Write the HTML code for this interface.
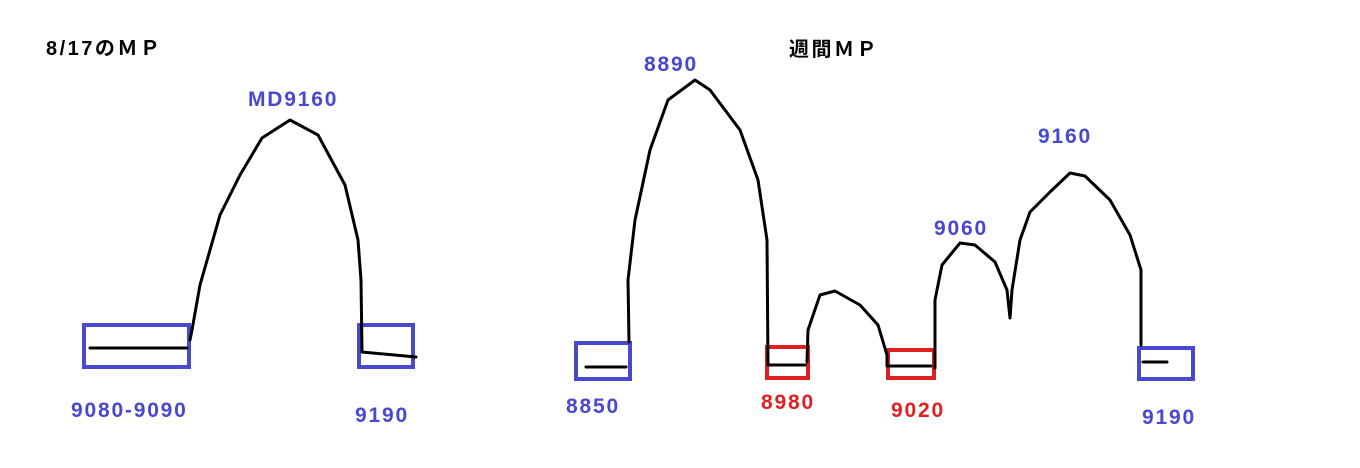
<!DOCTYPE html>
<html><head><meta charset="utf-8"><style>
html,body{margin:0;padding:0;background:#fff;width:1360px;height:468px;overflow:hidden}
svg text{font-family:"Liberation Sans","Noto Sans CJK JP",sans-serif;font-weight:bold}
</style></head><body>
<svg width="1360" height="468" viewBox="0 0 1360 468" xmlns="http://www.w3.org/2000/svg">
<g font-size="20" letter-spacing="2.5">
<text x="46" y="55" fill="#000">8/17のＭＰ</text>
<text x="789" y="56" fill="#000">週間ＭＰ</text>
</g>
<g font-size="21" fill="#4848d0" letter-spacing="1.8">
<text x="248" y="106">MD9160</text>
<text x="71" y="417">9080-9090</text>
<text x="355" y="422">9190</text>
<text x="644" y="71">8890</text>
<text x="566" y="413">8850</text>
<text x="934" y="235">9060</text>
<text x="1038" y="143">9160</text>
<text x="1142" y="424">9190</text>
</g>
<g font-size="21" fill="#e02020" letter-spacing="1.8">
<text x="761" y="409">8980</text>
<text x="891" y="417">9020</text>
</g>
<g fill="none" stroke="#4848d0" stroke-width="4">
<rect x="84" y="325" width="105" height="42"/>
<rect x="359" y="325" width="54" height="42"/>
<rect x="576" y="343" width="54" height="36"/>
<rect x="1139" y="348" width="54" height="31"/>
</g>
<g fill="none" stroke="#e02020" stroke-width="4">
<rect x="767" y="347" width="41" height="31"/>
<rect x="888" y="350" width="46" height="28"/>
</g>
<g fill="none" stroke="#000" stroke-width="3" stroke-linejoin="round" stroke-linecap="round">
<path d="M90 348 L187 348"/>
<path d="M190 340 L192 330 L200 285 L220 215 L240 175 L262 138 L290 120 L318 135 L345 185 L358 240 L361 280 L362 352 L416 357"/>
<path d="M586 367 L626 367"/>
<path d="M629 342 L628 280 L635 220 L650 150 L668 100 L695 80 L710 90 L740 130 L758 180 L767 240 L768 365 L805 365"/>
<path d="M807 362 L808 330 L820 295 L835 291 L860 305 L878 325 L887 355 L887 366 L931 366"/>
<path d="M935 368 L935 300 L942 265 L960 243 L975 245 L995 262 L1007 290 L1010 318 L1012 290 L1020 240 L1030 212 L1050 192 L1070 173 L1085 176 L1110 200 L1130 235 L1141 270 L1141 345"/>
<path d="M1143 362 L1167 362"/>
</g>
</svg>
</body></html>
